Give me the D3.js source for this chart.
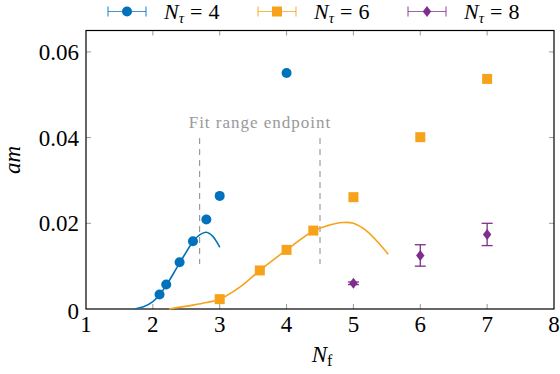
<!DOCTYPE html>
<html>
<head>
<meta charset="utf-8">
<script src="https://cdn.jsdelivr.net/npm/d3@7"></script>
<style>
  body { margin: 0; background: #fff; }
</style>
</head>
<body>
<svg id="chart" width="560" height="374"></svg>
<script>
// data
var nf4 = [2.1, 2.2, 2.4, 2.6, 2.8, 3.0, 4.0];
var am4 = [0.0034, 0.0057, 0.0109, 0.0158, 0.0209, 0.0264, 0.0551];
var nf6 = [3.0, 3.6, 4.0, 4.4, 5.0, 6.0, 7.0];
var am6 = [0.0023, 0.0090, 0.0138, 0.0183, 0.0261, 0.0401, 0.0537];
var nf8 = [5.0, 6.0, 7.0];
var am8 = [0.0060, 0.0125, 0.0174];
var err8 = [0.0003, 0.0025, 0.0026];

// fit curves, sampled by eye
var fit4x = [1.73, 1.86, 2.0, 2.1, 2.2, 2.4, 2.6, 2.7, 2.8, 2.9, 3.0];
var fit4y = [0, 0.0005, 0.0017, 0.0033, 0.0055, 0.0107, 0.0157, 0.0173, 0.0179, 0.0169, 0.0144];
var fit6x = [2.24, 2.6, 2.8, 3.0, 3.3, 3.6, 4.0, 4.4, 4.6, 4.84, 5.0, 5.2, 5.4, 5.52];
var fit6y = [0, 0.0009, 0.0015, 0.0023, 0.0051, 0.0090, 0.0138, 0.0182, 0.0194, 0.0202, 0.0200, 0.0182, 0.0150, 0.0128];

var fitEnds = [2.7, 4.5];
var xTicks = [1, 2, 3, 4, 5, 6, 7, 8];
var yTicks = [0, 0.02, 0.04, 0.06];

var blue = "#0072bd", orange = "#f7a21b", purple = "#7e2f8e";
var serif = "Liberation Serif";

var svg = d3.select("#chart");
var x = d3.scaleLinear().domain([1, 8]).range([86, 554]);
var y = d3.scaleLinear().domain([0, 0.065]).range([309, 30.5]);

function txt(g, size) {
  return g.append("text").style("font-family", serif).style("font-size", size + "px");
}

// inward ticks on all four sides
var tk = svg.append("g").attr("stroke", "#999").attr("stroke-width", 1);
xTicks.slice(1, -1).forEach(function(t) {
  tk.append("line").attr("x1", x(t)).attr("x2", x(t)).attr("y1", y(0)).attr("y2", y(0) - 5);
  tk.append("line").attr("x1", x(t)).attr("x2", x(t)).attr("y1", y.range()[1]).attr("y2", y.range()[1] + 5);
});
yTicks.slice(1).forEach(function(t) {
  tk.append("line").attr("x1", x(1)).attr("x2", x(1) + 5).attr("y1", y(t)).attr("y2", y(t));
  tk.append("line").attr("x1", x(8)).attr("x2", x(8) - 5).attr("y1", y(t)).attr("y2", y(t));
});

svg.append("rect")
  .attr("x", x(1)).attr("y", y.range()[1])
  .attr("width", x(8) - x(1)).attr("height", y(0) - y.range()[1])
  .attr("fill", "none").attr("stroke", "#000").attr("stroke-width", 1.2);

// tick labels
var gx = svg.append("g");
xTicks.forEach(function(d) {
  txt(gx, 23).attr("x", x(d)).attr("y", 332).attr("text-anchor", "middle").text(d);
});
var gy = svg.append("g");
yTicks.forEach(function(d) {
  txt(gy, 23).attr("x", 79).attr("y", y(d) + (d === 0 ? 10 : 8)).attr("text-anchor", "end")
    .text(d === 0 ? "0" : d.toFixed(2));
});

// axis labels
var xl = txt(svg, 23).attr("x", 322).attr("y", 362).attr("text-anchor", "middle");
xl.append("tspan").style("font-style", "italic").text("N");
xl.append("tspan").style("font-size", "16px").attr("dy", 4).text("f");
txt(svg, 23).attr("transform", "translate(20,160) rotate(-90)")
  .attr("text-anchor", "middle").style("font-style", "italic").text("am");

// fit range endpoints
svg.append("g").selectAll("line").data(fitEnds).enter().append("line")
  .attr("x1", function(d) { return x(d); }).attr("x2", function(d) { return x(d); })
  .attr("y1", y(0.0399)).attr("y2", y(0.0105))
  .attr("stroke", "#888").attr("stroke-width", 1).attr("stroke-dasharray", "6,5");
txt(svg, 17).attr("x", 260).attr("y", 128).attr("text-anchor", "middle")
  .style("letter-spacing", "1px").attr("fill", "#999")
  .text("Fit range endpoint");

// fit curves
var line = d3.line().x(function(d) { return x(d[0]); }).y(function(d) { return y(d[1]); })
  .curve(d3.curveCatmullRom);
svg.append("path").attr("d", line(d3.zip(fit4x, fit4y)))
  .attr("fill", "none").attr("stroke", blue).attr("stroke-width", 1.6);
svg.append("path").attr("d", line(d3.zip(fit6x, fit6y)))
  .attr("fill", "none").attr("stroke", orange).attr("stroke-width", 1.6);

// markers
function drawMarker(g, kind, cx, cy, color) {
  if (kind === "circle") {
    g.append("circle").attr("cx", cx).attr("cy", cy).attr("r", 5).attr("fill", color);
  } else if (kind === "square") {
    g.append("rect").attr("x", cx - 5).attr("y", cy - 5).attr("width", 10).attr("height", 10).attr("fill", color);
  } else {
    g.append("path").attr("d", "M" + cx + "," + (cy - 5.5) + "L" + (cx + 4.2) + "," + cy +
      "L" + cx + "," + (cy + 5.5) + "L" + (cx - 4.2) + "," + cy + "Z").attr("fill", color);
  }
}

var pts = svg.append("g");
nf4.forEach(function(d, i) { drawMarker(pts, "circle", x(d), y(am4[i]), blue); });
nf6.forEach(function(d, i) { drawMarker(pts, "square", x(d), y(am6[i]), orange); });
nf8.forEach(function(d, i) {
  var cx = x(d), y0 = y(am8[i] - err8[i]), y1 = y(am8[i] + err8[i]);
  pts.append("line").attr("x1", cx).attr("x2", cx).attr("y1", y0).attr("y2", y1)
    .attr("stroke", purple).attr("stroke-width", 1.3);
  [y0, y1].forEach(function(yy) {
    pts.append("line").attr("x1", cx - 5.5).attr("x2", cx + 5.5).attr("y1", yy).attr("y2", yy)
      .attr("stroke", purple).attr("stroke-width", 1.3);
  });
  drawMarker(pts, "diamond", cx, y(am8[i]), purple);
});

// legend
var legend = [
  { n: "4", kind: "circle", color: blue, x0: 108 },
  { n: "6", kind: "square", color: orange, x0: 258 },
  { n: "8", kind: "diamond", color: purple, x0: 408 }
];
var lg = svg.append("g");
legend.forEach(function(d) {
  var ly = 11.5;
  lg.append("line").attr("x1", d.x0).attr("x2", d.x0 + 38).attr("y1", ly).attr("y2", ly)
    .attr("stroke", d.color).attr("stroke-width", 1.2).attr("opacity", 0.75);
  [d.x0, d.x0 + 38].forEach(function(xx) {
    lg.append("line").attr("x1", xx).attr("x2", xx).attr("y1", ly - 5).attr("y2", ly + 5)
      .attr("stroke", d.color).attr("stroke-width", 1.2).attr("opacity", 0.75);
  });
  drawMarker(lg, d.kind, d.x0 + 19, ly, d.color);
  var t = txt(lg, 22).attr("x", d.x0 + 56).attr("y", 19);
  t.append("tspan").style("font-style", "italic").text("N");
  t.append("tspan").style("font-style", "italic").style("font-size", "15px").attr("dy", 4).text("τ");
  t.append("tspan").attr("dy", -4).attr("dx", 6).text("=");
  t.append("tspan").attr("dx", 6).text(d.n);
});
</script>
</body>
</html>
